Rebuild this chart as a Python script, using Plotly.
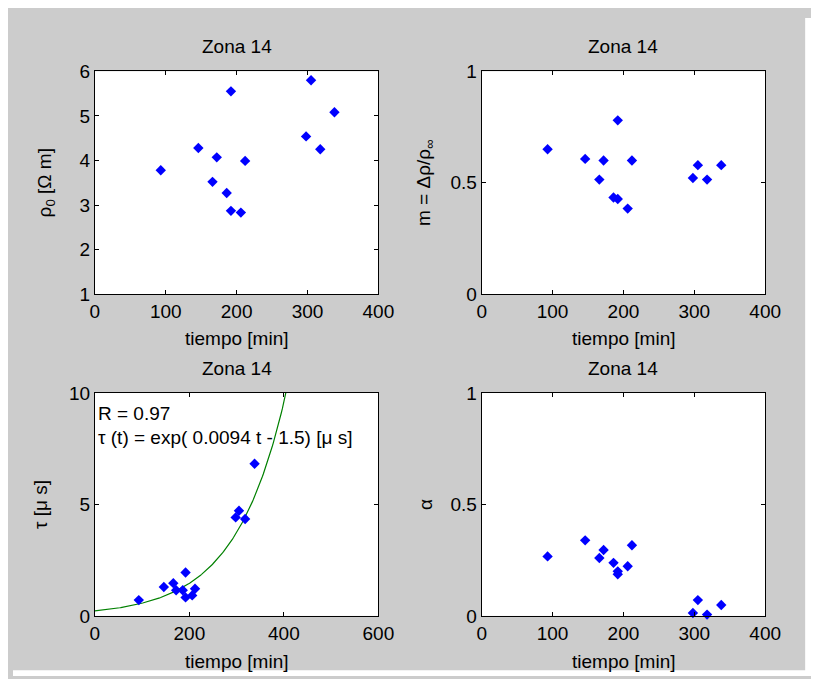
import numpy as np
import plotly.graph_objs as graph

# datos (Zona 14)
tiempo = [93, 146, 166, 172, 186, 192, 192, 206, 212, 298, 305, 318, 338]
rho0 = [3.78, 4.28, 3.52, 4.07, 3.27, 5.55, 2.87, 2.83, 3.99, 4.54, 5.80, 4.25, 5.08]
m_val = [0.65, 0.607, 0.514, 0.60, 0.434, 0.78, 0.427, 0.384, 0.60, 0.521, 0.579, 0.514, 0.579]
tau = [0.71, 1.30, 1.47, 1.15, 1.15, 1.95, 0.83, 0.92, 1.22, 4.42, 4.72, 4.35, 6.83]
alpha = [0.267, 0.339, 0.26, 0.296, 0.238, 0.20, 0.187, 0.223, 0.317, 0.013, 0.071, 0.006, 0.049]

# ajuste exponencial mostrado en la figura
fit_a = 0.0094
fit_b = -1.5
fit_r = 0.97
t_fit = np.linspace(0, 420, 200)
tau_fit = np.exp(fit_a * t_fit + fit_b)

W, H = 819, 679
FONT = "Liberation Sans"
FS = 19

def px_x(p):
    return p / W

def px_y(p):
    return 1 - p / H

marker = dict(symbol="diamond", size=8, color="#0000ff")

data = [
    graph.Scatter(x=tiempo, y=rho0, mode="markers", marker=marker,
                  xaxis="x", yaxis="y", cliponaxis=False),
    graph.Scatter(x=tiempo, y=m_val, mode="markers", marker=marker,
                  xaxis="x2", yaxis="y2", cliponaxis=False),
    graph.Scatter(x=t_fit, y=tau_fit, mode="lines",
                  line=dict(color="#008000", width=1.2),
                  xaxis="x3", yaxis="y3"),
    graph.Scatter(x=tiempo, y=tau, mode="markers", marker=marker,
                  xaxis="x3", yaxis="y3", cliponaxis=False),
    graph.Scatter(x=tiempo, y=alpha, mode="markers", marker=marker,
                  xaxis="x4", yaxis="y4", cliponaxis=False),
]

left_dom = [px_x(84), px_x(375)]
right_dom = [px_x(481), px_x(772)]
top_dom = [px_y(285), px_y(55)]
bot_dom = [px_y(617), px_y(387)]

def ax(dom, rng, ticks, anchor, title=None, standoff=0):
    d = dict(domain=dom, range=rng, tickvals=ticks, anchor=anchor,
             showgrid=False, zeroline=False, showline=True, mirror="ticks",
             linecolor="#000000", linewidth=1, ticks="inside", ticklen=4,
             tickcolor="#000000", tickfont=dict(family=FONT, size=FS, color="#000000"))
    if title:
        d["title"] = dict(text=title, standoff=standoff,
                          font=dict(family=FONT, size=FS, color="#000000"))
    return d

layout = graph.Layout(
    width=W, height=H,
    margin=dict(l=0, r=0, t=0, b=0),
    paper_bgcolor="#cccccc",
    plot_bgcolor="#ffffff",
    showlegend=False,
    font=dict(family=FONT, size=FS, color="#000000"),
    xaxis=ax(left_dom, [0, 400], [0, 100, 200, 300, 400], "y"),
    yaxis=ax(top_dom, [1, 6], [1, 2, 3, 4, 5, 6], "x", "ρ<sub>0</sub> [Ω m]", 22),
    xaxis2=ax(right_dom, [0, 400], [0, 100, 200, 300, 400], "y2"),
    yaxis2=ax(top_dom, [0, 1], [0, 0.5, 1], "x2", "m = Δρ/ρ<sub>∞</sub>", 14),
    xaxis3=ax(left_dom, [0, 600], [0, 200, 400, 600], "y3"),
    yaxis3=ax(bot_dom, [0, 10], [0, 5, 10], "x3", "τ [μ s]", 16),
    xaxis4=ax(right_dom, [0, 400], [0, 100, 200, 300, 400], "y4"),
    yaxis4=ax(bot_dom, [0, 1], [0, 0.5, 1], "x4", "α", 12),
)

fig = graph.Figure(data=data, layout=layout)

# borde blanco de la ventana (derecha y abajo)
fig.add_shape(type="rect", xref="paper", yref="paper", x0=px_x(813), x1=1, y0=0, y1=1,
              fillcolor="#ffffff", line=dict(width=0), layer="below")
fig.add_shape(type="rect", xref="paper", yref="paper", x0=0, x1=1, y0=0, y1=px_y(673),
              fillcolor="#ffffff", line=dict(width=0), layer="below")

def label(text, x, y, xanchor="center"):
    fig.add_annotation(text=text, x=px_x(x), y=px_y(y), xref="paper", yref="paper",
                       showarrow=False, xanchor=xanchor, yanchor="middle",
                       font=dict(family=FONT, size=FS, color="#000000"))

# titulos y etiquetas
for cx in [(84 + 375) / 2, (481 + 772) / 2]:
    label("Zona 14", cx, 29)
    label("Zona 14", cx, 362)
    label("tiempo [min]", cx, 331)
    label("tiempo [min]", cx, 664)

label("R = %.2f" % fit_r, 85, 408, xanchor="left")
label("τ (t) = exp( %.4f t - %.1f) [μ s]" % (fit_a, -fit_b), 85, 433, xanchor="left")

fig.write_html("out.html")
